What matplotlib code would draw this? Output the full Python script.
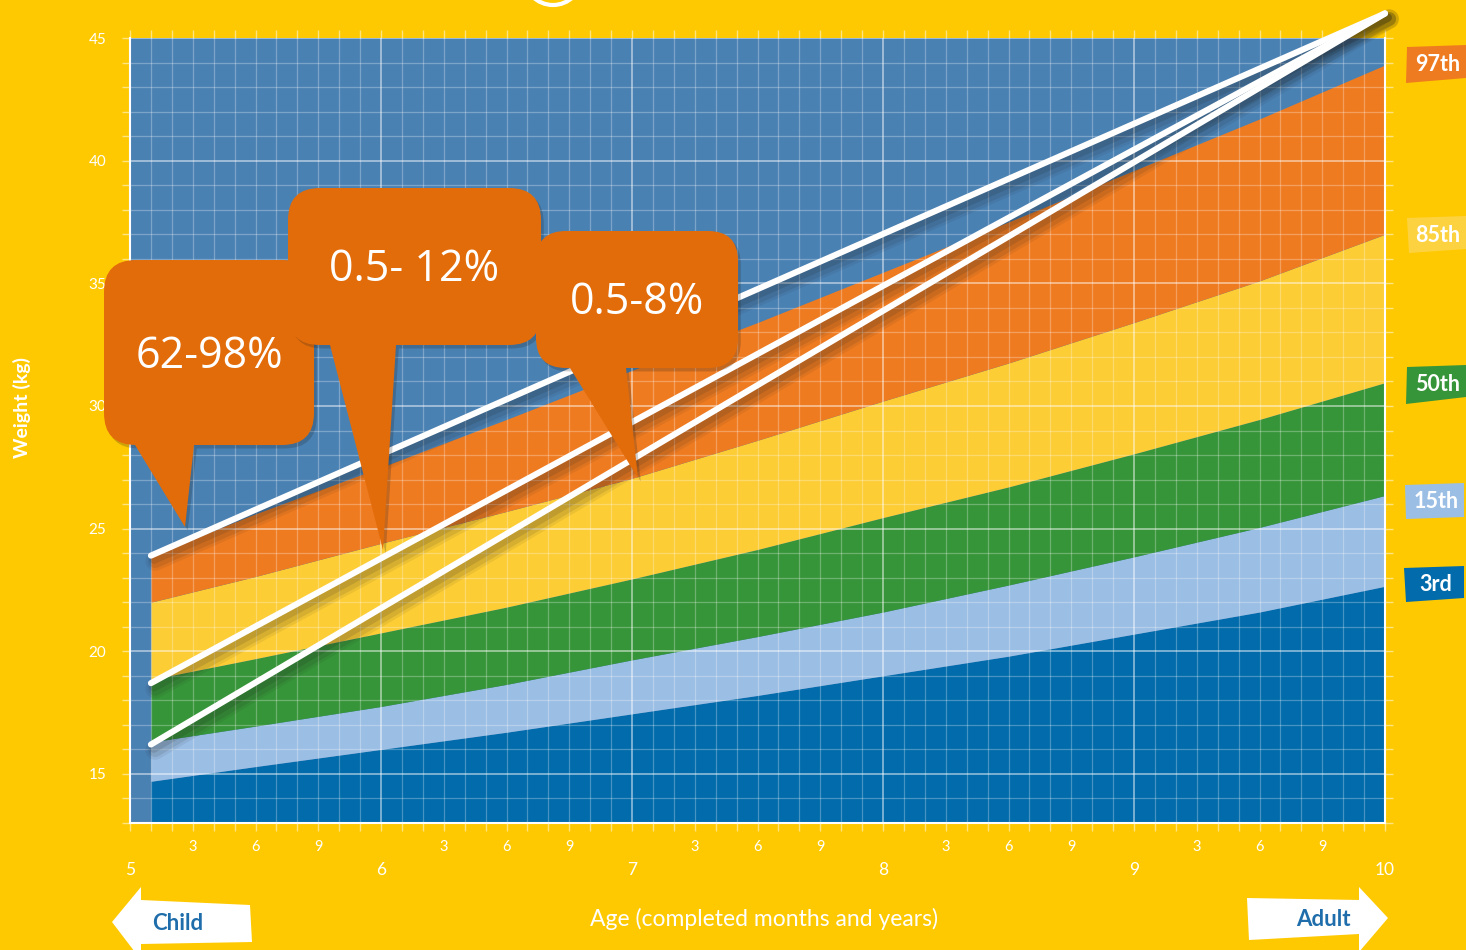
import matplotlib
matplotlib.use("Agg")
import matplotlib.pyplot as plt
import matplotlib.patheffects as pe
from matplotlib.path import Path
from matplotlib.patches import PathPatch, Polygon, Circle
from matplotlib.transforms import Affine2D
from matplotlib.ticker import FixedLocator

# ---- data -------------------------------------------------------------
ages = [5 + 1 / 12, 5.5, 6, 6.5, 7, 7.5, 8, 8.5, 9, 9.5, 10]
p3 = [14.7, 15.3, 16.0, 16.7, 17.45, 18.2, 19.0, 19.8, 20.7, 21.6, 22.65]
p15 = [16.3, 16.95, 17.75, 18.65, 19.65, 20.6, 21.6, 22.7, 23.85, 25.05, 26.35]
p50 = [18.85, 19.7, 20.75, 21.8, 22.95, 24.15, 25.45, 26.7, 28.05, 29.45, 30.95]
p85 = [22.0, 23.05, 24.4, 25.7, 27.05, 28.6, 30.2, 31.75, 33.4, 35.1, 37.0]
p97 = [23.9, 25.6, 27.5, 29.45, 31.45, 33.4, 35.45, 37.5, 39.6, 41.7, 43.9]

trend_ages = [5 + 1 / 12, 10]
trend_high = [23.9, 46.0]
trend_mid = [18.7, 46.0]
trend_low = [16.2, 46.0]

callout_texts = ["62-98%", "0.5- 12%", "0.5-8%"]
percentile_names = ["97th", "85th", "50th", "15th", "3rd"]
year_labels = ["5", "6", "7", "8", "9", "10"]
weight_ticks = [15, 20, 25, 30, 35, 40, 45]

# ---- colours ----------------------------------------------------------
GOLD = "#FFC901"
STEEL = "#4A81B3"
C97 = "#EF7B21"
C85 = "#FDCD35"
C50 = "#379539"
C15 = "#9BBEE5"
C3 = "#016BAB"
CALLOUT = "#E36C0A"
TEXT_BLUE = "#1F6EAB"

W, H = 1466, 950
fig = plt.figure(figsize=(W / 100, H / 100), dpi=100, facecolor=GOLD)
# pixel coordinates with origin at the top-left corner
px = Affine2D().scale(1 / W, -1 / H).translate(0, 1) + fig.transFigure

ax = fig.add_axes([130 / W, 1 - 823 / H, (1385 - 130) / W, (823 - 38) / H])
ax.set_facecolor(STEEL)
ax.set_xlim(5, 10)
ax.set_ylim(13, 45)

# percentile bands
ax.fill_between(ages, 13, p3, color=C3, lw=0, zorder=1)
ax.fill_between(ages, p3, p15, color=C15, lw=0, zorder=1)
ax.fill_between(ages, p15, p50, color=C50, lw=0, zorder=1)
ax.fill_between(ages, p50, p85, color=C85, lw=0, zorder=1)
ax.fill_between(ages, p85, p97, color=C97, lw=0, zorder=1)

# grid: one line per month and per kilogram
months = [5 + m / 12 for m in range(61)]
minor_x = [m for i, m in enumerate(months) if i % 12 != 0]
ax.xaxis.set_major_locator(FixedLocator(list(range(5, 11))))
ax.xaxis.set_minor_locator(FixedLocator(minor_x))
ax.yaxis.set_major_locator(FixedLocator(weight_ticks))
ax.yaxis.set_minor_locator(FixedLocator([w for w in range(13, 46) if w % 5]))
ax.set_xticklabels(year_labels)
ax.set_yticklabels([str(w) for w in weight_ticks])
month_labels = []
for i, m in enumerate(months):
    if i % 12 == 0:
        continue
    month_labels.append(str(i % 12) if (i % 12) in (3, 6, 9) else "")
ax.set_xticklabels(month_labels, minor=True)

ax.set_axisbelow(False)
ax.grid(which="major", color="white", alpha=0.55, lw=1.2, zorder=2)
ax.grid(which="minor", color="white", alpha=0.28, lw=0.9, zorder=2)

tick_col = (1, 1, 1, 0.5)
ax.tick_params(axis="both", which="both", direction="out", colors=tick_col,
               length=6, width=1, top=True, right=True)
ax.tick_params(axis="x", which="major", pad=22, labelsize=12.5, labelcolor="white")
ax.tick_params(axis="x", which="minor", pad=6, labelsize=10.5, labelcolor="white")
ax.tick_params(axis="y", which="major", pad=11, labelsize=11, labelcolor="white")
for lbl in ax.get_xticklabels(which="both") + ax.get_yticklabels():
    lbl.set_fontfamily("Lato")

for side in ("left", "right", "bottom"):
    ax.spines[side].set_color("white")
    ax.spines[side].set_linewidth(1.5)
ax.spines["top"].set_visible(False)

# trend lines with a soft drop shadow
line_fx = [
    pe.SimpleLineShadow(offset=(3, -4), shadow_color="#1a1a1a", alpha=0.07, linewidth=14),
    pe.SimpleLineShadow(offset=(3, -4), shadow_color="#1a1a1a", alpha=0.10, linewidth=10),
    pe.SimpleLineShadow(offset=(2, -3), shadow_color="#1a1a1a", alpha=0.12, linewidth=6),
    pe.Normal(),
]
for series in (trend_high, trend_mid, trend_low):
    ax.plot(trend_ages, series, color="white", lw=4.4, solid_capstyle="round",
            clip_on=False, zorder=5, path_effects=line_fx)

# axis titles
fig.text(22, 408, "Weight (kg)", transform=px, rotation=90, ha="center",
         va="center", color="white", fontsize=14, fontweight="bold",
         family="Lato")
fig.text(764, 919, "Age (completed months and years)", transform=px,
         ha="center", va="center", color="white", fontsize=16.5, family="Lato")

# Child / Adult arrows
child = Polygon([(112, 922), (141, 887), (141, 900), (250, 905), (252, 942),
                 (141, 944), (141, 960)], closed=True, transform=px,
                facecolor="white", edgecolor="none")
adult = Polygon([(1247, 898), (1359, 900), (1359, 887), (1388, 918),
                 (1359, 952), (1359, 934), (1249, 940)], closed=True,
                transform=px, facecolor="white", edgecolor="none")
fig.add_artist(child)
fig.add_artist(adult)
fig.text(178, 924, "Child", transform=px, ha="center", va="center",
         color=TEXT_BLUE, fontsize=16, fontweight="bold", family="Lato")
fig.text(1323, 919, "Adult", transform=px, ha="center", va="center",
         color=TEXT_BLUE, fontsize=16, fontweight="bold", family="Lato")

# percentile tags on the right
tag_shapes = [
    [(1407, 47), (1466, 45), (1466, 78), (1406, 83)],
    [(1407, 218), (1466, 216), (1466, 249), (1409, 253)],
    [(1407, 367), (1466, 365), (1466, 397), (1406, 404)],
    [(1405, 485), (1464, 483), (1464, 517), (1406, 519)],
    [(1404, 568), (1464, 566), (1464, 598), (1406, 602)],
]
tag_colours = [C97, "#FDD241", C50, C15, C3]
for name, shape, col in zip(percentile_names, tag_shapes, tag_colours):
    fig.add_artist(Polygon(shape, closed=True, transform=px, facecolor=col,
                           edgecolor="none"))
    cx = sum(p[0] for p in shape) / 4
    cy = sum(p[1] for p in shape) / 4
    fig.text(cx + 1, cy + 1, name, transform=px, ha="center", va="center",
             color="white", fontsize=15.5, fontweight="bold", family="Lato")

# decorative ring at the top edge
fig.add_artist(Circle((553, -24), 29, transform=px, facecolor="none",
                      edgecolor="white", lw=3))


def callout_path(x0, y0, x1, y1, r, tx0, tx1, tip):
    """Rounded box with a pointer hanging from its bottom edge."""
    verts = [
        (x0 + r, y0), (x1 - r, y0), (x1, y0), (x1, y0 + r),
        (x1, y1 - r), (x1, y1), (x1 - r, y1),
        (tx1, y1), tip, (tx0, y1),
        (x0 + r, y1), (x0, y1), (x0, y1 - r),
        (x0, y0 + r), (x0, y0), (x0 + r, y0), (x0 + r, y0),
    ]
    codes = [
        Path.MOVETO, Path.LINETO, Path.CURVE3, Path.CURVE3,
        Path.LINETO, Path.CURVE3, Path.CURVE3,
        Path.LINETO, Path.LINETO, Path.LINETO,
        Path.LINETO, Path.CURVE3, Path.CURVE3,
        Path.LINETO, Path.CURVE3, Path.CURVE3, Path.CLOSEPOLY,
    ]
    return Path(verts, codes)


callout_boxes = [
    (104, 260, 314, 445, 32, 135, 194, (185, 527)),
    (288, 188, 541, 345, 32, 330, 396, (383, 550)),
    (536, 231, 738, 368, 30, 570, 626, (638, 478)),
]
callout_centres = [(209, 357), (414, 270), (637, 303)]
shadow_fx = [pe.SimplePatchShadow(offset=(2, -2.5), shadow_rgbFace="#202020",
                                  alpha=0.22), pe.Normal()]
for i, (box, txt, ctr) in enumerate(zip(callout_boxes, callout_texts,
                                        callout_centres)):
    patch = PathPatch(callout_path(*box), transform=px, facecolor=CALLOUT,
                      edgecolor="none", zorder=10 + i, path_effects=shadow_fx)
    fig.add_artist(patch)
    fig.text(ctr[0], ctr[1], txt, transform=px, ha="center", va="center",
             color="white", fontsize=31, family="Open Sans", zorder=10.5 + i)

fig.savefig("out.png", dpi=100, facecolor=GOLD)
